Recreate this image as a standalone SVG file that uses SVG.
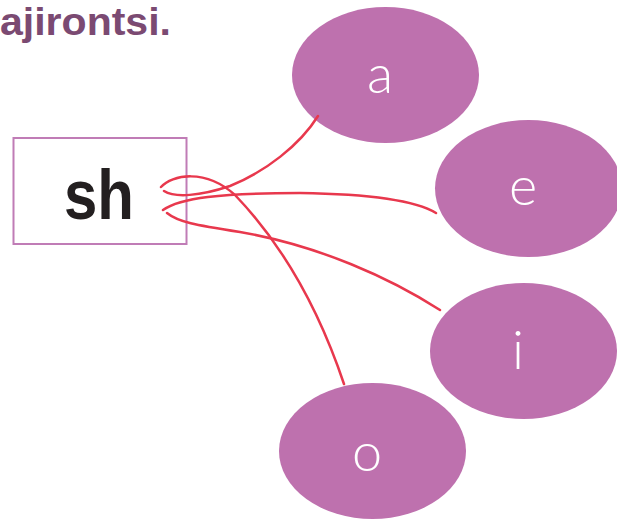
<svg xmlns="http://www.w3.org/2000/svg" width="617" height="520" viewBox="0 0 617 520">
<style>
.title{font-family:"Liberation Sans",Arial,sans-serif;font-weight:bold;font-size:38px;fill:#7b4a72}
.vowel{fill:#be71ae}
.vt{font-family:"Lato","Open Sans",sans-serif;font-weight:300;font-size:54px;fill:#ffffff;text-anchor:middle}
.conn{fill:none;stroke:#e8384d;stroke-width:2.5;stroke-linecap:round}
</style>
<rect width="617" height="520" fill="#ffffff"/>
<text class="title" x="0" y="35" textLength="171" lengthAdjust="spacingAndGlyphs">ajirontsi.</text>
<g id="node-sh">
<rect x="13.5" y="138" width="173" height="106" fill="#ffffff" stroke="#c07cb6" stroke-width="2"/>
<text x="99" y="219" font-family="Liberation Sans, Arial, sans-serif" font-weight="bold" font-size="70" fill="#231f20" text-anchor="middle" textLength="70" lengthAdjust="spacingAndGlyphs">sh</text>
</g>
<g id="node-a">
<ellipse class="vowel" cx="385.5" cy="75" rx="93.5" ry="68"/>
<text class="vt" x="380" y="93">a</text>
</g>
<g id="node-e">
<ellipse class="vowel" cx="528.5" cy="188.5" rx="93.5" ry="68.5"/>
<text class="vt" x="523" y="205">e</text>
</g>
<g id="node-i">
<ellipse class="vowel" cx="523.5" cy="351" rx="93.5" ry="68"/>
<text class="vt" x="518" y="369">i</text>
</g>
<g id="node-o">
<ellipse class="vowel" cx="372.5" cy="451" rx="93.5" ry="68"/>
<text class="vt" x="367" y="471">o</text>
</g>
<g id="connectors">
<path class="conn" d="M161,187 C172,175 205,168 235,195 Q305,268 344,384"/>
<path class="conn" d="M164,191 C175,198 200,196 230,186 C265,172 300,145 318,116"/>
<path class="conn" d="M163,210 C180,198 220,193 300,193 C370,194 415,200 436,213"/>
<path class="conn" d="M167,213 C178,222 195,225 240,232 C320,246 390,278 440,310"/>
</g>
</svg>
